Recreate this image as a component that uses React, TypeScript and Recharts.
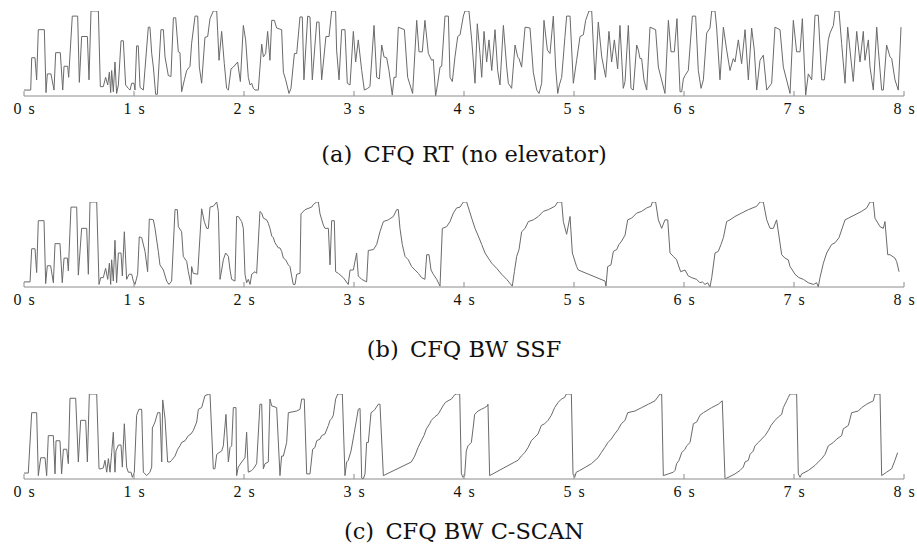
import React from 'react';
import { LineChart, Line, XAxis, YAxis } from 'recharts';

// ---------- tick labels / captions ----------
const secondTicks = [0, 1, 2, 3, 4, 5, 6, 7, 8];
const captions = ['(a)\u2002CFQ RT (no elevator)', '(b)\u2002CFQ BW SSF', '(c)\u2002CFQ BW C-SCAN'];

// ---------- (a) CFQ RT (no elevator): time [s], disk position [% of range] ----------
const rtTime = [0,0.061,0.070,0.100,0.115,0.130,0.185,0.200,0.212,0.245,0.273,0.288,0.330,0.352,0.364,0.397,0.406,0.439,0.488,0.503,0.524,0.576,0.591,0.609,0.676,0.694,0.721,0.742,0.761,0.776,0.788,0.797,0.812,0.827,0.842,0.858,0.882,0.903,0.924,0.948,0.964,0.979,1.0,1.009,1.024,1.039,1.055,1.085,1.130,1.145,1.161,1.176,1.197,1.212,1.245,1.267,1.282,1.312,1.336,1.358,1.379,1.403,1.418,1.433,1.458,1.479,1.509,1.524,1.555,1.579,1.594,1.615,1.645,1.670,1.691,1.721,1.752,1.773,1.797,1.821,1.842,1.858,1.882,1.903,1.942,1.967,1.994,2.015,2.039,2.055,2.070,2.085,2.100,2.130,2.161,2.176,2.197,2.215,2.236,2.252,2.276,2.297,2.342,2.358,2.379,2.409,2.427,2.458,2.479,2.509,2.530,2.545,2.579,2.600,2.621,2.661,2.682,2.706,2.745,2.773,2.797,2.833,2.842,2.864,2.888,2.918,2.939,2.964,2.994,3.015,3.039,3.070,3.094,3.124,3.145,3.182,3.206,3.230,3.252,3.273,3.297,3.318,3.348,3.364,3.382,3.403,3.458,3.488,3.533,3.570,3.591,3.621,3.645,3.676,3.706,3.721,3.742,3.761,3.782,3.797,3.827,3.858,3.873,3.894,3.918,3.943,3.964,3.994,4.009,4.045,4.070,4.100,4.121,4.145,4.161,4.182,4.206,4.227,4.252,4.282,4.306,4.327,4.358,4.388,4.403,4.433,4.464,4.488,4.500,4.524,4.555,4.600,4.630,4.661,4.682,4.706,4.727,4.758,4.782,4.812,4.833,4.852,4.867,4.888,4.918,4.933,4.964,4.994,5.024,5.055,5.085,5.106,5.136,5.161,5.191,5.221,5.252,5.288,5.318,5.342,5.367,5.397,5.418,5.448,5.464,5.494,5.518,5.539,5.570,5.585,5.600,5.615,5.636,5.661,5.691,5.742,5.767,5.827,5.858,5.882,5.912,5.936,5.964,5.979,5.994,6.009,6.039,6.076,6.106,6.130,6.155,6.176,6.206,6.236,6.252,6.282,6.297,6.327,6.358,6.388,6.418,6.448,6.464,6.494,6.524,6.555,6.585,6.615,6.639,6.661,6.691,6.721,6.752,6.797,6.827,6.873,6.903,6.964,6.994,7.024,7.055,7.076,7.106,7.130,7.161,7.191,7.221,7.252,7.276,7.312,7.327,7.358,7.373,7.409,7.433,7.464,7.488,7.509,7.539,7.570,7.600,7.630,7.645,7.676,7.691,7.721,7.752,7.767,7.797,7.812,7.842,7.873,7.888,7.918,7.948,7.973];
const rtPos = [7,7,45,45,19,78,78,4,26,26,7,51,51,7,35,35,22,94,94,16,70,70,19,100,100,11,11,22,13,28,4,30,5,40,3,13,65,65,13,9,7,15,15,7,59,59,10,7,81,81,50,34,2,2,78,78,46,24,23,92,92,52,51,5,19,30,35,62,94,94,34,15,69,70,91,100,100,42,76,38,9,7,32,34,40,17,83,66,22,13,15,9,7,7,61,46,50,76,42,89,89,80,78,28,19,3,9,50,50,93,93,19,94,93,19,87,87,19,70,70,100,100,54,19,78,78,15,13,76,40,66,30,7,9,11,83,22,20,60,46,45,30,1,22,22,81,78,22,3,89,52,52,89,50,42,43,0,15,34,35,94,94,22,17,46,70,72,94,100,100,66,15,85,50,22,76,40,66,30,78,30,13,83,34,15,9,60,46,44,34,81,80,28,7,3,15,89,54,50,94,34,3,13,22,70,94,94,15,42,70,72,89,100,100,19,87,46,22,76,40,66,32,83,9,17,83,9,7,60,54,44,44,19,7,81,78,34,3,89,52,52,91,5,5,20,24,30,94,94,30,9,19,74,80,100,100,80,19,81,54,30,44,40,66,38,78,19,80,54,7,42,48,7,15,81,78,34,3,89,52,52,91,1,26,19,95,95,19,19,66,74,83,100,100,62,15,81,54,17,76,40,76,42,66,34,7,81,54,7,7,60,46,44,19,7,81];

// ---------- (b) CFQ BW SSF ----------
const ssfTime = [0,0.055,0.070,0.100,0.115,0.130,0.182,0.197,0.212,0.242,0.267,0.282,0.327,0.348,0.364,0.394,0.403,0.427,0.479,0.494,0.524,0.570,0.585,0.600,0.661,0.682,0.697,0.721,0.742,0.761,0.776,0.788,0.797,0.812,0.827,0.842,0.858,0.882,0.894,0.912,0.933,0.955,0.979,0.994,1.009,1.033,1.048,1.070,1.100,1.124,1.139,1.176,1.191,1.221,1.236,1.267,1.297,1.318,1.342,1.373,1.394,1.403,1.433,1.448,1.479,1.494,1.518,1.524,1.539,1.579,1.615,1.639,1.661,1.676,1.691,1.721,1.752,1.767,1.782,1.797,1.812,1.833,1.858,1.873,1.888,1.918,1.933,1.948,1.979,1.994,2.009,2.024,2.039,2.055,2.070,2.100,2.115,2.145,2.161,2.176,2.206,2.221,2.236,2.252,2.267,2.282,2.312,2.327,2.342,2.358,2.379,2.403,2.418,2.433,2.448,2.464,2.479,2.509,2.518,2.555,2.615,2.630,2.661,2.676,2.691,2.721,2.736,2.767,2.782,2.797,2.821,2.833,2.858,2.903,2.948,2.964,2.994,3.024,3.039,3.070,3.115,3.130,3.176,3.206,3.236,3.267,3.312,3.358,3.388,3.403,3.418,3.439,3.464,3.494,3.524,3.555,3.585,3.615,3.645,3.661,3.682,3.700,3.721,3.752,3.782,3.803,3.842,3.873,3.903,3.933,3.964,3.994,4.024,4.070,4.100,4.130,4.161,4.191,4.221,4.252,4.297,4.342,4.388,4.439,4.458,4.479,4.500,4.524,4.555,4.585,4.630,4.676,4.721,4.767,4.827,4.852,4.888,4.903,4.933,4.964,4.985,5.024,5.039,5.282,5.291,5.306,5.336,5.358,5.388,5.409,5.433,5.464,5.488,5.524,5.570,5.615,5.661,5.700,5.712,5.742,5.767,5.797,5.827,5.852,5.873,5.903,5.933,5.948,5.970,6.009,6.039,6.070,6.115,6.145,6.167,6.191,6.215,6.236,6.252,6.282,6.312,6.336,6.358,6.388,6.418,6.464,6.524,6.585,6.661,6.691,6.721,6.752,6.782,6.812,6.842,6.888,6.918,6.948,6.964,6.985,7.009,7.045,7.085,7.130,7.176,7.206,7.221,7.236,7.267,7.297,7.342,7.373,7.409,7.464,7.494,7.555,7.615,7.661,7.691,7.721,7.736,7.782,7.812,7.827,7.852,7.873,7.918,7.933,7.955];
const ssfPos = [6,6,45,45,17,78,78,4,25,25,5,51,51,5,34,34,19,94,94,14,69,69,15,100,100,3,11,11,22,9,28,3,32,7,55,5,40,40,13,65,9,15,15,7,3,15,59,58,42,18,80,79,69,42,26,20,7,3,7,91,91,71,65,36,30,18,3,24,16,15,92,77,69,69,94,95,100,89,9,20,32,40,36,20,9,7,83,83,77,69,15,5,9,3,15,18,16,89,87,81,79,75,69,60,58,52,46,46,42,34,32,26,24,13,3,3,15,16,86,91,94,97,100,100,86,73,69,69,26,78,78,18,16,11,3,20,20,40,13,9,6,43,44,50,65,77,79,83,91,91,69,50,36,32,24,20,16,11,9,38,38,20,15,9,1,69,71,77,87,93,94,100,100,81,69,60,50,40,34,28,22,15,9,1,18,36,44,65,69,77,79,83,89,91,95,100,100,77,62,83,40,24,20,7,1,24,26,42,44,50,54,61,79,81,87,89,93,95,100,100,79,69,79,79,40,36,32,26,18,20,13,11,9,5,6,3,5,0,11,40,42,50,58,77,79,83,87,91,95,100,100,79,69,69,79,38,34,32,24,20,15,11,9,5,3,5,0,11,28,40,50,52,58,79,81,85,89,93,100,100,81,71,69,77,38,38,34,30,18];

// ---------- (c) CFQ BW C-SCAN ----------
const cscanTime = [0,0.039,0.070,0.115,0.130,0.152,0.191,0.206,0.221,0.267,0.282,0.291,0.327,0.342,0.358,0.388,0.403,0.418,0.470,0.494,0.515,0.561,0.576,0.594,0.661,0.682,0.700,0.721,0.736,0.752,0.767,0.782,0.797,0.812,0.827,0.836,0.858,0.882,0.894,0.912,0.933,0.948,0.973,0.985,1.003,1.024,1.045,1.070,1.085,1.115,1.145,1.161,1.167,1.191,1.215,1.236,1.252,1.261,1.282,1.306,1.327,1.342,1.373,1.397,1.418,1.433,1.464,1.494,1.518,1.539,1.570,1.585,1.615,1.645,1.682,1.691,1.721,1.736,1.752,1.773,1.797,1.812,1.836,1.858,1.873,1.888,1.903,1.927,1.933,1.948,1.979,2.009,2.024,2.039,2.070,2.085,2.115,2.145,2.161,2.176,2.191,2.221,2.236,2.252,2.297,2.327,2.342,2.358,2.388,2.403,2.479,2.509,2.524,2.548,2.570,2.600,2.624,2.645,2.661,2.691,2.706,2.736,2.767,2.782,2.797,2.812,2.833,2.852,2.894,2.918,2.933,2.948,2.973,3.003,3.039,3.055,3.070,3.085,3.100,3.115,3.130,3.155,3.176,3.191,3.221,3.236,3.267,3.521,3.552,3.582,3.612,3.636,3.658,3.688,3.703,3.733,3.764,3.809,3.830,3.855,3.885,3.915,3.930,3.961,3.976,3.991,4.006,4.021,4.036,4.067,4.082,4.097,4.127,4.158,4.188,4.212,4.218,4.233,4.461,4.491,4.521,4.552,4.582,4.612,4.642,4.673,4.703,4.733,4.764,4.794,4.824,4.855,4.885,4.915,4.930,4.976,4.991,5.006,5.021,5.052,5.158,5.218,5.248,5.279,5.309,5.339,5.370,5.400,5.430,5.464,5.488,5.555,5.615,5.676,5.736,5.782,5.797,5.812,5.858,5.903,5.918,5.933,5.955,5.979,6.009,6.024,6.055,6.085,6.115,6.145,6.176,6.252,6.312,6.348,6.373,6.464,6.509,6.539,6.555,6.585,6.600,6.630,6.645,6.676,6.706,6.736,6.767,6.791,6.827,6.858,6.888,6.903,6.933,6.948,6.964,7.024,7.039,7.055,7.070,7.130,7.191,7.252,7.282,7.312,7.358,7.388,7.433,7.448,7.494,7.524,7.585,7.615,7.661,7.721,7.736,7.782,7.797,7.842,7.888,7.918,7.942];
const cscanPos = [7,7,78,78,4,25,25,4,51,51,6,45,45,6,35,35,18,95,95,20,69,69,20,100,100,12,12,13,22,8,24,8,31,55,8,33,40,40,14,65,14,8,8,2,8,75,82,82,8,4,8,14,60,67,78,78,20,93,71,20,20,22,27,35,39,43,45,51,53,57,67,82,84,98,100,100,12,12,29,31,33,39,76,20,37,39,84,84,4,14,20,25,55,8,10,12,18,88,88,12,18,20,94,86,84,4,27,27,43,78,80,82,94,94,6,6,35,37,45,47,51,53,63,69,71,75,94,100,100,4,20,22,33,55,82,83,1,0,6,43,43,78,80,82,88,88,4,20,27,37,45,51,59,65,69,73,76,86,90,92,94,99,100,100,6,2,4,33,39,43,59,76,80,82,84,86,88,4,20,22,27,31,37,45,49,53,63,65,69,75,84,90,94,96,100,100,6,2,8,10,18,25,31,37,43,47,53,58,65,69,78,80,84,88,92,100,100,4,6,8,10,18,22,31,35,39,43,65,67,75,78,84,88,92,0,6,10,14,20,22,29,33,39,43,47,51,57,63,69,73,76,84,92,96,100,100,6,2,6,10,16,24,29,39,43,47,51,59,63,78,80,84,88,92,100,100,4,8,12,22,31];

const zip = (t: number[], v: number[]) => t.map((x, i) => ({ t: x, v: v[i] }));
const panels = [zip(rtTime, rtPos), zip(ssfTime, ssfPos), zip(cscanTime, cscanPos)];

const AXIS = '#8c8c8c';
const TRACE = '#6a6a6a';
const plotTops = [11, 202, 394];
const captionBaselines = [162, 357, 539];

function TimeTick(props: any) {
  const { x, y, payload } = props;
  return (
    <g>
      <line x1={x} x2={x} y1={y} y2={y - 5} stroke={AXIS} strokeWidth={1} />
      <text
        x={x}
        y={y + 18}
        textAnchor="middle"
        style={{ fontFamily: 'Liberation Serif', fontSize: 16, wordSpacing: 3 }}
        fill="#111"
      >
        {`${payload.value} s`}
      </text>
    </g>
  );
}

function TopTick(props: any) {
  const { x, y } = props;
  return <line x1={x} x2={x + 5} y1={y} y2={y} stroke={AXIS} strokeWidth={1} />;
}

function Panel({ data, top }: { data: { t: number; v: number }[]; top: number }) {
  return (
    <div style={{ position: 'absolute', left: 0, top: top - 10 }}>
      <LineChart width={917} height={120} data={data} margin={{ top: 10, right: 13, bottom: 0, left: 24 }}>
        <XAxis
          dataKey="t"
          type="number"
          domain={[0, 8]}
          ticks={secondTicks}
          interval={0}
          height={25}
          tickSize={0}
          tickMargin={0}
          tickLine={false}
          stroke={AXIS}
          tick={(p: any) => <TimeTick {...p} />}
          allowDataOverflow
        />
        <YAxis
          type="number"
          domain={[0, 100]}
          ticks={[100]}
          width={0}
          tickSize={0}
          tickMargin={0}
          tickLine={false}
          stroke={AXIS}
          tick={(p: any) => <TopTick {...p} />}
          allowDataOverflow
        />
        <Line
          type="linear"
          dataKey="v"
          stroke={TRACE}
          strokeWidth={1}
          dot={false}
          activeDot={false}
          isAnimationActive={false}
        />
      </LineChart>
    </div>
  );
}

export default function App() {
  return (
    <div style={{ position: 'absolute', left: 0, top: 0, width: 917, height: 550, background: '#fff' }}>
      {panels.map((d, i) => (
        <Panel key={i} data={d} top={plotTops[i]} />
      ))}
      <svg width={917} height={550} style={{ position: 'absolute', left: 0, top: 0, pointerEvents: 'none' }}>
        {captions.map((c, i) => (
          <text
            key={i}
            x={464}
            y={captionBaselines[i]}
            textAnchor="middle"
            style={{ fontFamily: 'DejaVu Serif', fontSize: 22.5 }}
            fill="#111"
          >
            {c}
          </text>
        ))}
      </svg>
    </div>
  );
}
